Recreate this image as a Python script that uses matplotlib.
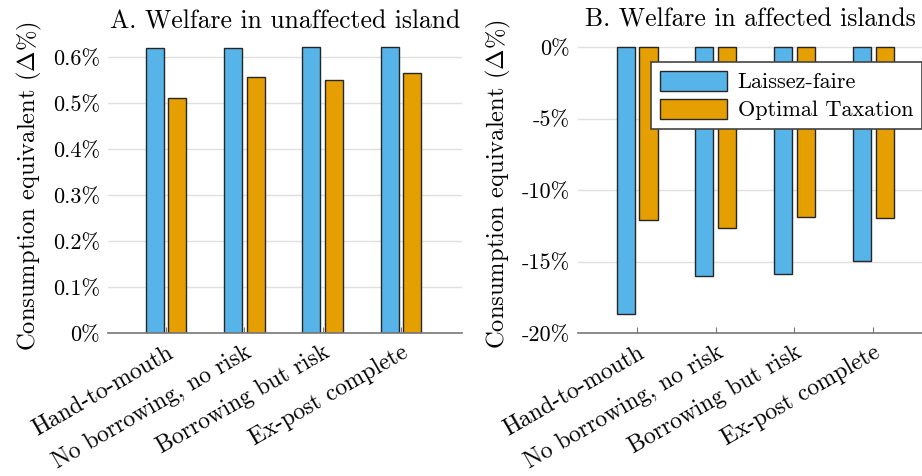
import matplotlib
matplotlib.use("Agg")
import matplotlib.pyplot as plt
import numpy as np

plt.rcParams['font.family'] = 'serif'
plt.rcParams['font.serif'] = ['cmr10']
plt.rcParams['mathtext.fontset'] = 'cm'
plt.rcParams['axes.unicode_minus'] = False
plt.rcParams['axes.formatter.use_mathtext'] = True

categories = ["Hand-to-mouth", "No borrowing, no risk", "Borrowing but risk", "Ex-post complete"]
series_names = ["Laissez-faire", "Optimal Taxation"]

unaffected_lf = [0.620, 0.620, 0.622, 0.622]
unaffected_opt = [0.511, 0.557, 0.550, 0.565]
affected_lf = [-18.7, -16.0, -15.85, -14.97]
affected_opt = [-12.1, -12.66, -11.9, -11.96]

a_ticks = [0, 0.1, 0.2, 0.3, 0.4, 0.5, 0.6]
a_ticklabels = ["0%", "0.1%", "0.2%", "0.3%", "0.4%", "0.5%", "0.6%"]
b_ticks = [-20, -15, -10, -5, 0]
b_ticklabels = ["-20%", "-15%", "-10%", "-5%", "0%"]

blue = "#56B4E9"
orange = "#E69F00"
edge = "#262626"

fig = plt.figure(figsize=(9.22, 4.76), dpi=100)
ax1 = fig.add_axes([108/922, 1-333/476, 354/922, 293/476])
ax2 = fig.add_axes([578/922, 1-333/476, 344/922, 298/476])

x = np.arange(len(categories))
w = 0.23
off = 0.145


def style(ax):
    for s in ["top", "right", "left"]:
        ax.spines[s].set_visible(False)
    ax.spines["bottom"].set_color("#777777")
    ax.spines["bottom"].set_linewidth(1.2)
    ax.yaxis.grid(True, color="#e0e0e0", linewidth=1)
    ax.set_axisbelow(True)
    ax.tick_params(axis="y", length=0, labelsize=16, pad=6)
    ax.tick_params(axis="x", direction="in", length=4, color="#777777", labelsize=17, pad=6)
    ax.set_xticks(x)
    ax.set_xticklabels(categories, rotation=30, ha="right", rotation_mode="anchor")
    ax.set_ylabel(r"Consumption equivalent ($\Delta$%)", fontsize=17.7, labelpad=6)


ax1.bar(x - off, unaffected_lf, w, color=blue, edgecolor=edge, linewidth=1, label=series_names[0])
ax1.bar(x + off, unaffected_opt, w, color=orange, edgecolor=edge, linewidth=1, label=series_names[1])
style(ax1)
ax1.set_xlim(-0.74, 3.78)
ax1.set_ylim(0, 0.637)
ax1.set_yticks(a_ticks)
ax1.set_yticklabels(a_ticklabels)
ax1.set_title("A. Welfare in unaffected island", fontsize=18.5, pad=8)

ax2.bar(x - off, affected_lf, w, color=blue, edgecolor=edge, linewidth=1, label=series_names[0])
ax2.bar(x + off, affected_opt, w, color=orange, edgecolor=edge, linewidth=1, label=series_names[1])
style(ax2)
ax2.set_xlim(-0.75, 3.62)
ax2.set_ylim(-20, 0.84)
ax2.set_yticks(b_ticks)
ax2.set_yticklabels(b_ticklabels)
ax2.set_title("B. Welfare in affected islands", fontsize=18.5, pad=6)

leg = ax2.legend(loc="upper right", bbox_to_anchor=(1.0, 0.91), borderaxespad=0,
                 fontsize=16, handlelength=3.0, handleheight=1.0, handletextpad=0.5,
                 fancybox=False, framealpha=1, edgecolor="#444444",
                 borderpad=0.4, labelspacing=0.3)
leg.get_frame().set_linewidth(1.2)

fig.savefig("out.png", dpi=100)
